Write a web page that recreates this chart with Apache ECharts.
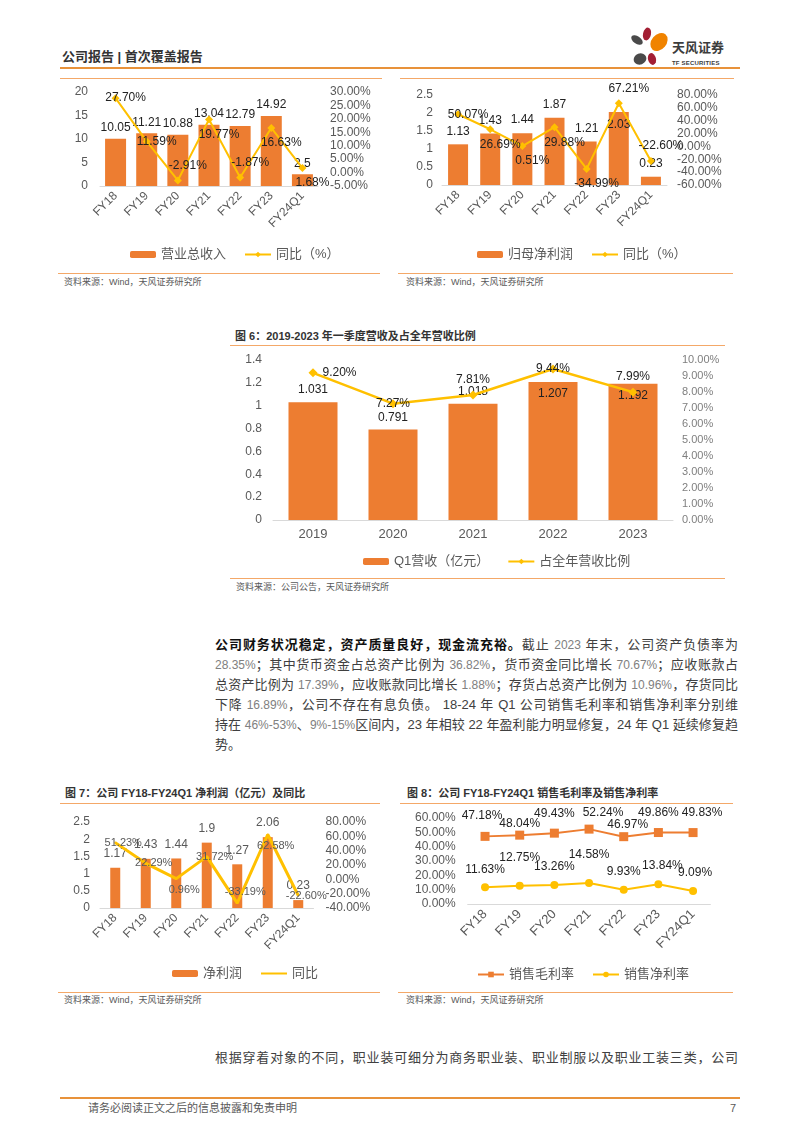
<!DOCTYPE html>
<html><head><meta charset="utf-8">
<script src="https://cdn.jsdelivr.net/npm/echarts@6/dist/echarts.min.js"></script>
<style>
body{margin:0;background:#fff;}
#page{position:relative;width:802px;height:1133px;overflow:hidden;background:#fff;font-family:'Liberation Sans','Noto Sans CJK SC',sans-serif;color:#333;}
.abs{position:absolute;white-space:nowrap;}
.ln{position:absolute;height:0;border-top:1px solid #F4A868;}
.thick{border-top:2px solid #E8923A;}
.src{position:absolute;font-size:9px;line-height:12px;color:#595959;white-space:nowrap;}
.ttl{position:absolute;font-size:11px;line-height:14px;font-weight:bold;color:#333;white-space:nowrap;}
.para{position:absolute;left:215px;width:523px;font-size:13px;color:#404040;}
.pl{height:20px;line-height:20px;text-align:justify;text-align-last:justify;}
.pl.last{text-align-last:left;}
.pl b{color:#111;}
.n{color:#808080;font-size:12px;}
.ch{position:absolute;}
</style></head>
<body><div id="page">
<div class="abs" style="left:62px;top:49px;font-size:13px;line-height:16px;font-weight:bold;color:#333;">公司报告 | 首次覆盖报告</div>
<svg class="abs" style="left:625px;top:20px" width="50" height="50" viewBox="625 20 50 50">
<ellipse cx="647" cy="34" rx="4" ry="6.5" fill="#A31F34" transform="rotate(12 647 34)"/>
<ellipse cx="659" cy="42" rx="7.5" ry="10" fill="#F08300" transform="rotate(40 659 42)"/>
<ellipse cx="637" cy="40" rx="3.8" ry="6.5" fill="#4A4A4A" transform="rotate(-55 637 40)"/>
<ellipse cx="640" cy="59" rx="6.5" ry="5.5" fill="#4A4A4A" transform="rotate(-20 640 59)"/>
<ellipse cx="652" cy="59" rx="4" ry="6" fill="#A31F34" transform="rotate(-15 652 59)"/>
</svg>
<div class="abs" style="left:672px;top:40px;font-size:13px;line-height:16px;font-weight:bold;color:#3C3C3C;">天风证券</div>
<div class="abs" style="left:672px;top:59px;font-size:6px;line-height:8px;font-weight:bold;color:#3C3C3C;letter-spacing:0.2px;">TF SECURITIES</div>
<div class="ln thick" style="left:60px;top:67px;width:680px;"></div>

<div class="ln" style="left:60px;top:78px;width:322px;"></div>
<div class="ln" style="left:400px;top:78px;width:334px;"></div>
<div class="ln" style="left:58px;top:273px;width:322px;"></div>
<div class="ln" style="left:398px;top:273px;width:335px;"></div>
<div class="src" style="left:64px;top:276px;">资料来源：Wind，天风证券研究所</div>
<div class="src" style="left:406px;top:276px;">资料来源：Wind，天风证券研究所</div>

<div class="ttl" style="left:235px;top:329px;">图 6：2019-2023 年一季度营收及占全年营收比例</div>
<div class="ln" style="left:230px;top:345px;width:495px;"></div>
<div class="ln" style="left:230px;top:578px;width:495px;"></div>
<div class="src" style="left:236px;top:581px;">资料来源：公司公告，天风证券研究所</div>

<div class="para" style="top:635px;">
<div class="pl"><b>公司财务状况稳定，资产质量良好，现金流充裕。</b>截止 <span class="n">2023</span> 年末，公司资产负债率为</div>
<div class="pl"><span class="n">28.35%</span>；其中货币资金占总资产比例为 <span class="n">36.82%</span>，货币资金同比增长 <span class="n">70.67%</span>；应收账款占</div>
<div class="pl">总资产比例为 <span class="n">17.39%</span>，应收账款同比增长 <span class="n">1.88%</span>；存货占总资产比例为 <span class="n">10.96%</span>，存货同比</div>
<div class="pl">下降 <span class="n">16.89%</span>，公司不存在有息负债。 18-24 年 Q1 公司销售毛利率和销售净利率分别维</div>
<div class="pl">持在 <span class="n">46%-53%</span>、<span class="n">9%-15%</span>区间内，23 年相较 22 年盈利能力明显修复，24 年 Q1 延续修复趋</div>
<div class="pl last">势。</div>
</div>

<div class="ttl" style="left:65px;top:786px;">图 7：公司 FY18-FY24Q1 净利润（亿元）及同比</div>
<div class="ttl" style="left:407px;top:786px;">图 8：公司 FY18-FY24Q1 销售毛利率及销售净利率</div>
<div class="ln" style="left:60px;top:803px;width:320px;"></div>
<div class="ln" style="left:400px;top:803px;width:333px;"></div>
<div class="ln" style="left:58px;top:992px;width:322px;"></div>
<div class="ln" style="left:398px;top:992px;width:335px;"></div>
<div class="src" style="left:64px;top:994px;">资料来源：Wind，天风证券研究所</div>
<div class="src" style="left:406px;top:994px;">资料来源：Wind，天风证券研究所</div>

<div class="para" style="top:1048px;"><div class="pl">根据穿着对象的不同，职业装可细分为商务职业装、职业制服以及职业工装三类，公司</div></div>
<div class="ln thick" style="left:60px;top:1097px;width:680px;"></div>
<div class="abs" style="left:88px;top:1101px;font-size:11px;line-height:14px;color:#595959;">请务必阅读正文之后的信息披露和免责申明</div>
<div class="abs" style="left:730px;top:1101px;font-size:11px;line-height:14px;color:#595959;">7</div>

<div id="c1" class="ch" style="left:60px;top:80px;width:340px;height:192px;"></div>
<div id="c2" class="ch" style="left:400px;top:80px;width:360px;height:192px;"></div>
<div id="c3" class="ch" style="left:228px;top:348px;width:500px;height:228px;"></div>
<div id="c4" class="ch" style="left:60px;top:805px;width:340px;height:185px;"></div>
<div id="c5" class="ch" style="left:400px;top:805px;width:360px;height:185px;"></div>
</div>
<script>
// ---------- data ----------
const fyCats = ['FY18','FY19','FY20','FY21','FY22','FY23','FY24Q1'];
const revenue = [10.05, 11.21, 10.88, 13.04, 12.79, 14.92, 2.5];
const revenueYoY = [27.70, 11.59, -2.91, 19.77, -1.87, 16.63, 1.68];
const revenueTicks = {min: 0, max: 20, interval: 5};
const revenueYoYTicks = {min: -5, max: 30, interval: 5};

const parentProfit = [1.13, 1.43, 1.44, 1.87, 1.21, 2.03, 0.23];
const parentProfitYoY = [50.07, 26.69, 0.51, 29.88, -34.99, 67.21, -22.60];
const parentTicks = {min: 0, max: 2.5, interval: 0.5};
const parentYoYTicks = {min: -60, max: 80, interval: 20};

const years = ['2019','2020','2021','2022','2023'];
const q1Revenue = [1.031, 0.791, 1.018, 1.207, 1.192];
const q1Share = [9.20, 7.27, 7.81, 9.44, 7.99];
const q1Ticks = {min: 0, max: 1.4, interval: 0.2};
const q1ShareTicks = {min: 0, max: 10, interval: 1};

const netProfit = [1.17, 1.43, 1.44, 1.9, 1.27, 2.06, 0.23];
const netProfitYoY = [51.23, 22.29, 0.96, 31.72, -33.19, 62.58, -22.60];
const netTicks = {min: 0, max: 2.5, interval: 0.5};
const netYoYTicks = {min: -40, max: 80, interval: 20};

const grossMargin = [47.18, 48.04, 49.43, 52.24, 46.97, 49.86, 49.83];
const netMargin = [11.63, 12.75, 13.26, 14.58, 9.93, 13.84, 9.09];
const marginTicks = {min: 0, max: 60, interval: 10};

// ---------- label placement (style only) ----------
const revYoYPos = ['inside','inside','top','bottom','top','bottom','bottom'];
const parYoYPos = ['inside','bottom','bottom','bottom','bottom','top','top'];
const parBarPos = ['top','top','top','top','top','insideTop','top'];
const q1BarPos = ['top','top','top','insideTop','insideTop'];
const q1SharePos = ['right','inside','top','inside','top'];
const netYoYPos = ['inside','inside','bottom','inside','top','bottom','inside'];
const grossNudge = [[-3,-4],[0,5],[0,-3],[14,0],[4,5],[0,-3],[9,-3]];
const netNudge = [[0,0],[0,-10],[0,0],[0,-10],[0,0],[4,0],[2,0]];

// ---------- styles ----------
const FONT = "'Liberation Sans','Noto Sans CJK SC',sans-serif";
const ORANGE = '#ED7D31', YELLOW = '#FFC000', AXIS = '#D9D9D9', TXT = '#595959', LBL = '#222';
const pct = v => Number(v).toFixed(2) + '%';

function xCat(cats, rotate, fs) {
  return {type:'category', data:cats, axisLine:{lineStyle:{color:AXIS}}, axisTick:{show:false},
    axisLabel:{rotate:rotate, color:TXT, fontSize:fs, margin:8, interval:0}};
}
function yVal(t, fmt, margin, fs, color) {
  return {type:'value', min:t.min, max:t.max, interval:t.interval, splitLine:{show:false},
    axisLine:{show:false}, axisTick:{show:false},
    axisLabel:{color:color || TXT, fontSize:fs || 12, margin:margin, formatter:fmt}};
}
function legend(left, top, names) {
  return {left:left, top:top, itemWidth:26, itemHeight:7, itemGap:18,
    textStyle:{fontSize:13, color:TXT}, data:names};
}
function withPos(arr, pos) { return arr.map((v, i) => ({value:v, label:{position:pos[i]}})); }
function withNudge(arr, nudge) { return arr.map((v, i) => ({value:v, label:{offset:nudge[i]}})); }

// Chart 1
echarts.init(document.getElementById('c1')).setOption({
  animation:false, textStyle:{fontFamily:FONT},
  grid:{left:40, top:12, width:218, height:94},
  legend:legend(65, 163, ['营业总收入','同比（%）']),
  xAxis:xCat(fyCats, 45, 12),
  yAxis:[yVal(revenueTicks, null, 12), yVal(revenueYoYTicks, pct, 12)],
  series:[
    {name:'营业总收入', type:'bar', barWidth:21, itemStyle:{color:ORANGE}, data:revenue,
      label:{show:true, position:'top', distance:5, color:LBL, fontSize:12}},
    {name:'同比（%）', type:'line', yAxisIndex:1, data:withPos(revenueYoY, revYoYPos),
      symbol:'diamond', symbolSize:8, lineStyle:{color:YELLOW, width:2}, itemStyle:{color:YELLOW},
      label:{show:true, color:LBL, fontSize:12, offset:[10,0], formatter:p => pct(p.value)}}
  ]
});

// Chart 2
echarts.init(document.getElementById('c2')).setOption({
  animation:false, textStyle:{fontFamily:FONT},
  grid:{left:42, top:15, width:225, height:90},
  legend:legend(72, 163, ['归母净利润','同比（%）']),
  xAxis:xCat(fyCats, 45, 12),
  yAxis:[yVal(parentTicks, null, 9), yVal(parentYoYTicks, pct, 10)],
  series:[
    {name:'归母净利润', type:'bar', barWidth:20, itemStyle:{color:ORANGE}, data:withPos(parentProfit, parBarPos),
      label:{show:true, distance:7, color:LBL, fontSize:12}},
    {name:'同比（%）', type:'line', yAxisIndex:1, data:withPos(parentProfitYoY, parYoYPos),
      symbol:'diamond', symbolSize:8, lineStyle:{color:YELLOW, width:2}, itemStyle:{color:YELLOW},
      label:{show:true, color:LBL, fontSize:12, offset:[10,0], formatter:p => pct(p.value)}}
  ]
});

// Chart 3
echarts.init(document.getElementById('c3')).setOption({
  animation:false, textStyle:{fontFamily:FONT},
  grid:{left:45, top:12, width:400, height:160},
  legend:legend(130, 202, ['Q1营收（亿元）','占全年营收比例']),
  xAxis:xCat(years, 0, 13),
  yAxis:[yVal(q1Ticks, null, 11, 12), yVal(q1ShareTicks, pct, 9, 11, '#7F7F7F')],
  series:[
    {name:'Q1营收（亿元）', type:'bar', barWidth:49, itemStyle:{color:ORANGE}, data:withPos(q1Revenue, q1BarPos),
      label:{show:true, distance:6, color:LBL, fontSize:12}},
    {name:'占全年营收比例', type:'line', yAxisIndex:1, data:withPos(q1Share, q1SharePos),
      symbol:'diamond', symbolSize:9, lineStyle:{color:YELLOW, width:2.5}, itemStyle:{color:YELLOW},
      label:{show:true, color:LBL, fontSize:12, formatter:p => pct(p.value)}}
  ]
});

// Chart 4
echarts.init(document.getElementById('c4')).setOption({
  animation:false, textStyle:{fontFamily:FONT},
  grid:{left:40, top:17, width:213.5, height:86},
  legend:{left:107, top:157, itemWidth:26, itemHeight:7, itemGap:18, textStyle:{fontSize:13, color:TXT},
    data:['净利润', {name:'同比', itemStyle:{color:'rgba(0,0,0,0)', borderWidth:0}}]},
  xAxis:xCat(fyCats, 45, 12),
  yAxis:[yVal(netTicks, null, 10, 12), yVal(netYoYTicks, pct, 12, 12)],
  series:[
    {name:'净利润', type:'bar', barWidth:10, itemStyle:{color:ORANGE}, data:netProfit,
      label:{show:true, position:'top', distance:8, color:TXT, fontSize:12}},
    {name:'同比', type:'line', yAxisIndex:1, data:withPos(netProfitYoY, netYoYPos),
      symbol:'circle', symbolSize:2, lineStyle:{color:YELLOW, width:3}, itemStyle:{color:YELLOW},
      label:{show:true, color:TXT, fontSize:11, offset:[8,0], formatter:p => pct(p.value)}}
  ]
});

// Chart 5
echarts.init(document.getElementById('c5')).setOption({
  animation:false, textStyle:{fontFamily:FONT},
  grid:{left:67.7, top:13, width:242.7, height:86},
  legend:legend(72, 158, ['销售毛利率','销售净利率']),
  xAxis:xCat(fyCats, 45, 13),
  yAxis:yVal(marginTicks, pct, 12, 12),
  series:[
    {name:'销售毛利率', type:'line', data:withNudge(grossMargin, grossNudge), symbol:'rect', symbolSize:9,
      lineStyle:{color:ORANGE, width:2}, itemStyle:{color:ORANGE},
      label:{show:true, position:'top', distance:6, color:LBL, fontSize:12, formatter:p => pct(p.value)}},
    {name:'销售净利率', type:'line', data:withNudge(netMargin, netNudge), symbol:'circle', symbolSize:8,
      lineStyle:{color:YELLOW, width:2}, itemStyle:{color:YELLOW},
      label:{show:true, position:'top', distance:8, color:LBL, fontSize:12, formatter:p => pct(p.value)}}
  ]
});
</script>
</body></html>
